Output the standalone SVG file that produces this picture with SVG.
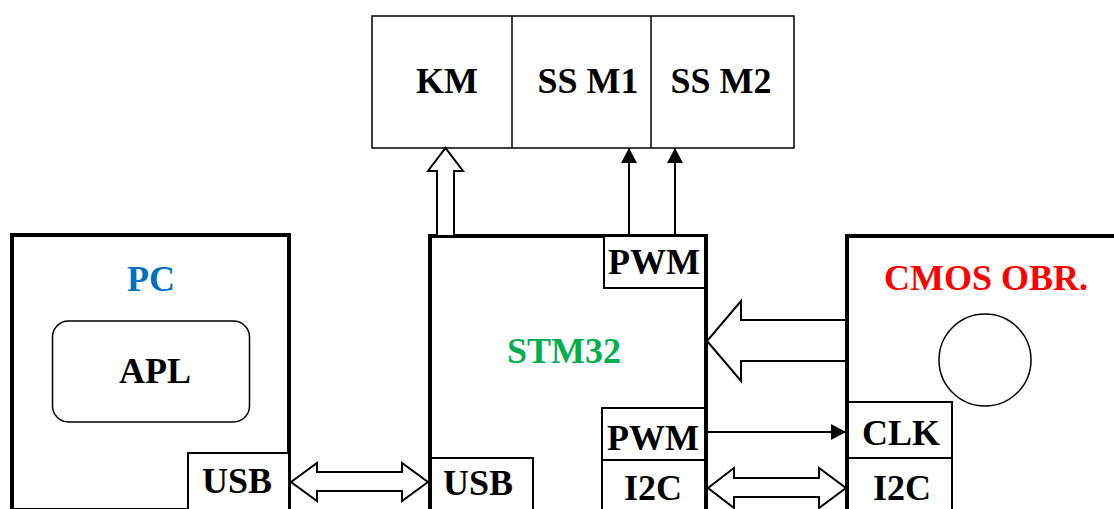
<svg xmlns="http://www.w3.org/2000/svg" width="1114" height="509" viewBox="0 0 1114 509">
<style>
text{font-weight:bold;font-size:36px;text-anchor:middle;fill:#000}
.main{fill:none;stroke:#000;stroke-width:4}
.sub{fill:#fff;stroke:#000;stroke-width:2}
.thin{fill:none;stroke:#000;stroke-width:1.5}
.hollow{fill:#fff;stroke:#000;stroke-width:2;stroke-linejoin:miter}
.ln{stroke:#000;stroke-width:2;fill:none}
</style>
<defs>
<marker id="ah" viewBox="0 0 15 16" refX="15" refY="8" markerWidth="15" markerHeight="16" markerUnits="userSpaceOnUse" orient="auto">
<path d="M0,0 L15,8 L0,16 Z" fill="#000"/>
</marker>
</defs>
<rect width="1114" height="509" fill="#fff"/>
<g font-family="Liberation Serif, Times New Roman, serif">
<g id="top-modules">
<rect class="thin" x="372" y="16" width="422" height="132"/>
<line class="thin" x1="512" y1="16" x2="512" y2="148"/>
<line class="thin" x1="651" y1="16" x2="651" y2="148"/>
<text x="447" y="93">KM</text>
<text x="588" y="93">SS M1</text>
<text x="721" y="93">SS M2</text>
</g>
<g id="pc">
<rect class="main" x="12" y="235" width="277" height="275"/>
<text x="151" y="291" style="fill:#0070C0">PC</text>
<rect class="thin" x="52.5" y="321" width="197" height="101" rx="16" ry="16"/>
<text x="155" y="383">APL</text>
<rect class="sub" x="188" y="453" width="101" height="62"/>
<text x="237" y="493">USB</text>
</g>
<g id="stm32">
<rect class="main" x="430" y="236" width="276" height="280"/>
<text x="564" y="363" style="fill:#00B050">STM32</text>
<rect class="sub" x="604" y="236" width="102" height="52"/>
<text x="654" y="274">PWM</text>
<rect class="sub" x="602" y="408" width="104" height="52"/>
<text x="653" y="450">PWM</text>
<rect class="sub" x="602" y="460" width="104" height="55"/>
<text x="653" y="500">I2C</text>
<rect class="sub" x="430" y="458" width="103" height="57"/>
<text x="478" y="495">USB</text>
<line x1="706" y1="236" x2="706" y2="509" stroke="#000" stroke-width="4"/>
<line x1="430" y1="236" x2="430" y2="509" stroke="#000" stroke-width="4"/>
</g>
<g id="cmos">
<rect class="main" x="847" y="236" width="280" height="280"/>
<text x="986" y="290" style="fill:#FF0000">CMOS OBR.</text>
<circle class="thin" cx="985" cy="360" r="46"/>
<rect class="sub" x="847" y="402" width="105" height="56"/>
<text x="901" y="445">CLK</text>
<rect class="sub" x="847" y="458" width="105" height="57"/>
<text x="902" y="500">I2C</text>
<line x1="847" y1="236" x2="847" y2="509" stroke="#000" stroke-width="4"/>
</g>
</g>
<g id="connectors">
<polygon class="hollow" points="437,236 437,171 428,171 445.5,148 463,171 454,171 454,236"/>
<line class="ln" x1="629" y1="236" x2="629" y2="148" marker-end="url(#ah)"/>
<line class="ln" x1="675" y1="236" x2="675" y2="148" marker-end="url(#ah)"/>
<polygon class="hollow" points="846,320 741,320 741,301 707,341 741,381 741,361 846,361"/>
<line class="ln" x1="708" y1="432" x2="846" y2="432" marker-end="url(#ah)"/>
<polygon class="hollow" points="708,488 734,468 734,478 819,478 819,468 846,488 819,508 819,497 734,497 734,508"/>
<polygon class="hollow" points="291,482 317,463 317,472 402,472 402,463 428,482 402,501 402,491 317,491 317,501"/>
</g>
</svg>
